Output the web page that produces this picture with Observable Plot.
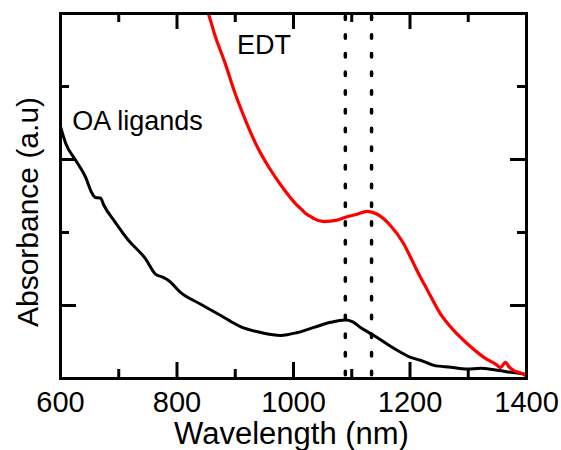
<!DOCTYPE html>
<html>
<head>
<meta charset="utf-8">
<script src="https://cdn.jsdelivr.net/npm/d3@7"></script>
<script src="https://cdn.jsdelivr.net/npm/@observablehq/plot@0.6"></script>
<style>
  body { margin: 0; background: #fff; }
  svg { overflow: visible; }
</style>
</head>
<body>
<div id="chart"></div>
<script>
// OA ligands spectrum (wavelength nm, absorbance a.u.)
const oaWavelength = [600, 609, 626, 643, 654, 660, 669, 674, 694, 717, 746, 763, 775, 786, 806, 840, 869, 897, 909, 944, 978, 1007, 1035, 1064, 1089, 1101, 1115, 1138, 1161, 1184, 1201, 1218, 1241, 1270, 1298, 1321, 1344, 1373, 1398, 1400];
const oaAbsorbance = [3.45, 3.22, 2.99, 2.76, 2.54, 2.48, 2.47, 2.38, 2.14, 1.89, 1.64, 1.43, 1.39, 1.34, 1.18, 1.02, 0.89, 0.76, 0.71, 0.63, 0.59, 0.63, 0.70, 0.77, 0.80, 0.78, 0.70, 0.59, 0.47, 0.36, 0.29, 0.25, 0.18, 0.155, 0.13, 0.14, 0.12, 0.085, 0.055, 0.04];

// EDT spectrum
const edtWavelength = [848, 854, 866, 883, 900, 918, 935, 958, 981, 1003, 1012, 1021, 1029, 1035, 1052, 1075, 1089, 1109, 1126, 1144, 1166, 1189, 1201, 1212, 1230, 1252, 1275, 1298, 1327, 1350, 1355, 1364, 1370, 1378, 1395, 1400];
const edtAbsorbance = [5.1, 4.99, 4.68, 4.31, 3.90, 3.53, 3.22, 2.89, 2.62, 2.40, 2.33, 2.26, 2.22, 2.19, 2.15, 2.17, 2.21, 2.25, 2.29, 2.25, 2.10, 1.85, 1.66, 1.48, 1.21, 0.89, 0.66, 0.48, 0.29, 0.18, 0.15, 0.22, 0.16, 0.11, 0.06, 0.03];

// Marked peak positions (dotted lines)
const peakLines = [1089, 1134];

// Axis ticks
const xMajorTicks = [800, 1000, 1200];
const xMinorTicks = [700, 900, 1100, 1300];
const xTickLabels = [600, 800, 1000, 1200, 1400];
const yMajorTicks = [1, 3];
const yMinorTicks = [2, 4];

// Annotations
const labels = [
  {text: "OA ligands", x: 620, y: 3.41},
  {text: "EDT", x: 903, y: 4.45}
];

const oa = oaWavelength.map((w, i) => ({w, a: oaAbsorbance[i]}));
const edt = edtWavelength.map((w, i) => ({w, a: edtAbsorbance[i]}));

const W = 561, H = 450;
const mL = 60, mR = 35, mT = 13, mB = 72;
const fw = W - mL - mR, fh = H - mT - mB;
const major = 16, minor = 9;
const tickStyle = {stroke: "black", strokeWidth: 3};

const chart = Plot.plot({
  width: W,
  height: H,
  marginLeft: mL,
  marginRight: mR,
  marginTop: mT,
  marginBottom: mB,
  style: {fontFamily: "'Liberation Sans', Arial, sans-serif", background: "white", color: "black", overflow: "visible"},
  x: {domain: [600, 1400]},
  y: {domain: [0, 5]},
  marks: [
    // dotted peak lines
    Plot.ruleX(peakLines, {x: d => d, stroke: "black", strokeWidth: 3.5, strokeDasharray: "3.5,15.2", strokeLinecap: "round", insetTop: 3}),
    // curves
    Plot.line(oa, {x: "w", y: "a", stroke: "black", strokeWidth: 3, clip: true, curve: "monotone-x"}),
    Plot.line(edt, {x: "w", y: "a", stroke: "#ff0000", strokeWidth: 3.2, clip: true, curve: "monotone-x"}),
    // x ticks bottom and top (inward)
    Plot.ruleX(xMajorTicks, {x: d => d, insetTop: fh - major, ...tickStyle}),
    Plot.ruleX(xMajorTicks, {x: d => d, insetBottom: fh - major, ...tickStyle}),
    Plot.ruleX(xMinorTicks, {x: d => d, insetTop: fh - minor, ...tickStyle}),
    Plot.ruleX(xMinorTicks, {x: d => d, insetBottom: fh - minor, ...tickStyle}),
    // y ticks left and right (inward)
    Plot.ruleY(yMajorTicks, {y: d => d, insetRight: fw - major, ...tickStyle}),
    Plot.ruleY(yMajorTicks, {y: d => d, insetLeft: fw - major, ...tickStyle}),
    Plot.ruleY(yMinorTicks, {y: d => d, insetRight: fw - minor, ...tickStyle}),
    Plot.ruleY(yMinorTicks, {y: d => d, insetLeft: fw - minor, ...tickStyle}),
    Plot.frame({stroke: "black", strokeWidth: 3}),
    // axes labels
    Plot.axisX({ticks: xTickLabels, tickFormat: d => String(d), tickSize: 0, tickPadding: 13, fontSize: 29, label: null}),
    Plot.axisY({ticks: [], label: null}),
    Plot.text(["Wavelength (nm)"], {frameAnchor: "bottom", textAnchor: "middle", lineAnchor: "bottom", dy: 65, dx: -2, fontSize: 31, fill: "black"}),
    Plot.text(["Absorbance (a.u)"], {frameAnchor: "left", rotate: -90, textAnchor: "middle", lineAnchor: "bottom", dx: -23, dy: 16, fontSize: 30, fill: "black"}),
    // annotations
    Plot.text(labels, {x: "x", y: "y", text: "text", textAnchor: "start", lineAnchor: "bottom", fontSize: 27, fill: "black"})
  ]
});

document.getElementById("chart").appendChild(chart);
</script>
</body>
</html>
